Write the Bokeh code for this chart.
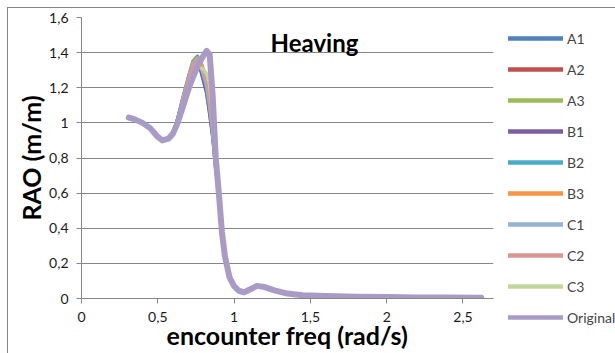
from bokeh.plotting import figure
from bokeh.models import Legend, LegendItem, Label, Range1d, FixedTicker
from bokeh.layouts import row
from bokeh.embed import file_html
from bokeh.resources import INLINE

freq = [0.31, 0.35, 0.4, 0.45, 0.5, 0.53, 0.57, 0.6, 0.63, 0.66, 0.7, 0.73, 0.76,
        0.79, 0.82, 0.84, 0.86, 0.88, 0.9, 0.92, 0.94, 0.97, 1.0, 1.03, 1.065, 1.1,
        1.15, 1.2, 1.27, 1.35, 1.45, 1.6, 1.8, 2.0, 2.2, 2.4, 2.62]

common_head = [1.03, 1.02, 1.00, 0.97, 0.92, 0.90, 0.91, 0.94]
common_tail = [0.60, 0.38, 0.24, 0.12, 0.07, 0.045, 0.035, 0.05, 0.072, 0.065,
               0.045, 0.028, 0.018, 0.014, 0.010, 0.008, 0.006, 0.005, 0.004]

A1 = common_head + [1.02, 1.12, 1.25, 1.34, 1.37, 1.27, 1.17, 1.05, 0.92, 0.74] + common_tail
A2 = common_head + [1.01, 1.11, 1.24, 1.33, 1.36, 1.31, 1.24, 1.12, 0.96, 0.76] + common_tail
A3 = common_head + [1.00, 1.09, 1.21, 1.29, 1.33, 1.31, 1.26, 1.16, 1.00, 0.78] + common_tail
B1 = common_head + [1.02, 1.12, 1.25, 1.34, 1.37, 1.28, 1.18, 1.06, 0.93, 0.74] + common_tail
B2 = common_head + [1.02, 1.13, 1.26, 1.35, 1.38, 1.30, 1.20, 1.08, 0.94, 0.75] + common_tail
B3 = common_head + [1.01, 1.12, 1.25, 1.34, 1.37, 1.33, 1.24, 1.12, 0.96, 0.76] + common_tail
C1 = common_head + [1.01, 1.11, 1.24, 1.33, 1.36, 1.30, 1.22, 1.10, 0.95, 0.75] + common_tail
C2 = common_head + [1.01, 1.10, 1.23, 1.32, 1.35, 1.31, 1.24, 1.13, 0.97, 0.77] + common_tail
C3 = common_head + [1.00, 1.08, 1.20, 1.28, 1.32, 1.31, 1.28, 1.22, 1.05, 0.80] + common_tail
Original = common_head + [1.00, 1.08, 1.19, 1.26, 1.32, 1.37, 1.41, 1.39, 1.15, 0.80] + common_tail

series_names = ["A1", "A2", "A3", "B1", "B2", "B3", "C1", "C2", "C3", "Original"]
series_values = [A1, A2, A3, B1, B2, B3, C1, C2, C3, Original]
series_colors = ["#4F81BD", "#C0504D", "#9BBB59", "#7B5E9E", "#4BACC6", "#F79646",
                 "#95B3D7", "#D99694", "#C3D69B", "#A99BC6"]

y_ticks = [0, 0.2, 0.4, 0.6, 0.8, 1.0, 1.2, 1.4, 1.6]
y_tick_labels = ["0", "0,2", "0,4", "0,6", "0,8", "1", "1,2", "1,4", "1,6"]
x_ticks = [0, 0.5, 1.0, 1.5, 2.0, 2.5]
x_tick_labels = ["0", "0,5", "1", "1,5", "2", "2,5"]

FONT = "Lato"
GRAY = "#868686"

p = figure(width=492, height=345, output_backend="svg", toolbar_location=None,
           x_range=Range1d(0, 2.7), y_range=Range1d(0, 1.6),
           min_border_left=73, min_border_right=7, min_border_top=9, min_border_bottom=55)
p.outline_line_color = None
p.background_fill_color = "white"
p.border_fill_color = "white"
p.frame_align = False

p.xgrid.grid_line_color = None
p.ygrid.grid_line_color = GRAY
p.ygrid.grid_line_width = 1

for ax in (p.xaxis[0], p.yaxis[0]):
    ax.axis_line_color = GRAY
    ax.major_tick_line_color = GRAY
    ax.minor_tick_line_color = None
    ax.major_tick_in = 0
    ax.major_tick_out = 5
    ax.major_label_text_font = FONT
    ax.major_label_text_font_size = "14px"
    ax.major_label_text_color = "#1a1a1a"
    ax.axis_label_text_font = FONT
    ax.axis_label_text_font_size = "25px"
    ax.axis_label_text_font_style = "bold"
    ax.axis_label_text_color = "black"

p.yaxis.ticker = FixedTicker(ticks=y_ticks)
p.yaxis.major_label_overrides = {t: l for t, l in zip(y_ticks, y_tick_labels)}
p.xaxis.ticker = FixedTicker(ticks=x_ticks)
p.xaxis.major_label_overrides = {t: l for t, l in zip(x_ticks, x_tick_labels)}
p.xaxis.axis_label = "encounter freq (rad/s)"
p.yaxis.axis_label = "RAO (m/m)"
p.xaxis.axis_label_standoff = -5
p.yaxis.axis_label_standoff = 0
p.xaxis.major_label_standoff = 8
p.yaxis.major_label_standoff = 8

# legend panel (separate figure to the right of the plot area); its ranges keep the
# proxy lines off-screen so only the legend shows
lg = figure(width=115, height=345, output_backend="svg", toolbar_location=None,
            x_axis_type=None, y_axis_type=None,
            x_range=Range1d(10, 11), y_range=Range1d(10, 11),
            min_border_left=0, min_border_right=0, min_border_top=7, min_border_bottom=0)
lg.outline_line_color = None
lg.xgrid.grid_line_color = None
lg.ygrid.grid_line_color = None
lg.frame_align = False

items = []
for name, vals, col in zip(series_names, series_values, series_colors):
    w = 6 if name == "Original" else 3.5
    p.line(freq, vals, line_color=col, line_width=w, line_cap="round", line_join="round")
    proxy = lg.line(freq, vals, line_color=col, line_width=4.5, line_cap="round")
    items.append(LegendItem(label=name, renderers=[proxy]))

legend = Legend(items=items, location="top_left", orientation="vertical",
                glyph_width=55, glyph_height=30, spacing=1, padding=0, margin=8,
                label_standoff=4, label_text_font=FONT, label_text_font_size="14px",
                border_line_color=None, background_fill_alpha=0)
lg.add_layout(legend, "center")

p.add_layout(Label(x=1.527, y=1.46, text="Heaving", text_font=FONT, text_font_style="bold",
                   text_color="black",
                   text_font_size="24px", text_align="center", text_baseline="middle"))

layout = row(p, lg, spacing=0, margin=(7, 0, 0, 7),
             styles={"border-left": "1px solid #868686", "border-top": "1px solid #868686"})
open("out.html", "w").write(file_html(layout, INLINE))
